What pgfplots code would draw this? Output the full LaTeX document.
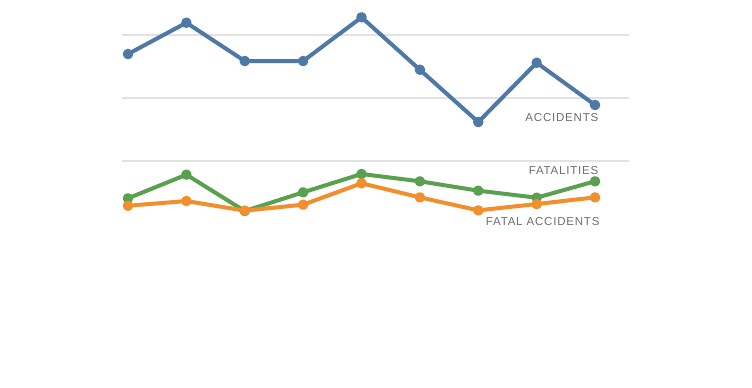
\documentclass[border=0pt]{standalone}
\usepackage{pgfplots}
\pgfplotsset{compat=1.18}
\usepackage{fontspec}
\setmainfont{Liberation Sans}
\newfontfamily\lab[LetterSpace=7]{Liberation Sans}
\definecolor{cblue}{HTML}{4E79A7}
\definecolor{corange}{HTML}{F28E2B}
\definecolor{cgreen}{HTML}{59A14F}
\definecolor{cgrid}{HTML}{E2E2E2}
\definecolor{ctext}{HTML}{6E6E6E}
\begin{document}
\begin{tikzpicture}
\fill[white] (0pt,0pt) rectangle (752pt,388pt);
\begin{axis}[
  at={(122pt,0pt)}, anchor=south west,
  scale only axis, width=507pt, height=388pt,
  xmin=-0.103, xmax=8.582, ymin=-260.3, ymax=355.6,
  axis line style={draw=none}, tick style={draw=none},
  xtick=\empty, ytick={100,200,300}, yticklabels={},
  ymajorgrids, grid style={cgrid, line width=1.1pt},
  clip=false,
  every axis plot/.append style={line width=4pt, mark=*, mark size=3.2pt, line join=round},
]
\addplot[cgreen, mark options={fill=cgreen, draw=cgreen}] coordinates {
(0,40.8) (1,78.3) (2,20.6) (3,50.3) (4,79.4) (5,67.8) (6,52.9) (7,41.8) (8,67.8)};
\addplot[corange, mark options={fill=corange, draw=corange}] coordinates {
(0,29.0) (1,36.5) (2,21.2) (3,30.7) (4,64.6) (5,42.3) (6,21.7) (7,31.7) (8,42.3)};
\addplot[cblue, mark options={fill=cblue, draw=cblue}] coordinates {
(0,269.8) (1,319.5) (2,258.7) (3,258.7) (4,328.1) (5,244.9) (6,161.9) (7,256.0) (8,188.9)};
\node[anchor=base east, inner sep=0pt, text=ctext, font=\lab\fontsize{11.5}{13}\selectfont] at (axis cs:8.06,163.5) {ACCIDENTS};
\node[anchor=base east, inner sep=0pt, text=ctext, font=\lab\fontsize{11.5}{13}\selectfont] at (axis cs:8.06,78.1) {FATALITIES};
\node[anchor=base east, inner sep=0pt, text=ctext, font=\lab\fontsize{11.5}{13}\selectfont] at (axis cs:8.08,-1.6) {FATAL ACCIDENTS};
\end{axis}
\end{tikzpicture}
\end{document}
